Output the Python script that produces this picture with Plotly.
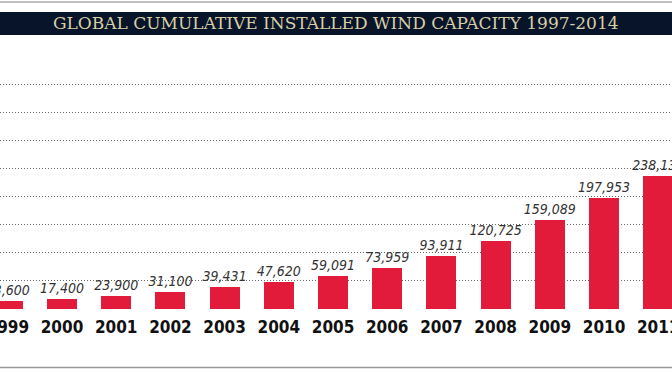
import plotly.graph_objects as go

years = [1999, 2000, 2001, 2002, 2003, 2004, 2005, 2006, 2007, 2008, 2009, 2010, 2011]
capacity_mw = [13600, 17400, 23900, 31100, 39431, 47620, 59091, 73959, 93911,
               120725, 159089, 197953, 238130]
title_text = "GLOBAL CUMULATIVE INSTALLED WIND CAPACITY 1997-2014"

W, H = 672, 372
M_T, M_B = 60, 63
PLOT_H = H - M_T - M_B
BASE_PX = H - M_B


def py(px):
    """convert a pixel row (from top) to paper y"""
    return (BASE_PX - px) / PLOT_H


fig = go.Figure()
fig.add_trace(go.Bar(
    x=years, y=capacity_mw,
    width=0.555,
    marker=dict(color="#e21b3a", line=dict(width=0)),
    texttemplate="%{y:,}",
    textposition="outside",
    constraintext="none",
    textfont=dict(family="DejaVu Sans Condensed, Roboto, sans-serif", size=14,
                  color="#333333", style="italic"),
    cliponaxis=False,
    hoverinfo="skip",
))

fig.update_layout(
    width=W, height=H,
    margin=dict(l=0, r=0, t=M_T, b=M_B, autoexpand=False),
    paper_bgcolor="white", plot_bgcolor="white",
    showlegend=False,
    bargap=0,
    xaxis=dict(
        range=[1998.856, 2011.254],
        automargin=False,
        tickmode="array", tickvals=years, ticktext=[str(y) for y in years],
        showgrid=False, zeroline=False, showline=False, ticks="",
        tickfont=dict(family="DejaVu Sans Condensed, Roboto, sans-serif", size=17,
                      color="#111111", weight="bold"),
        ticklabeloverflow="allow",
        ticklabelstandoff=6,
    ),
    yaxis=dict(
        range=[0, PLOT_H * 1785],
        automargin=False,
        tickmode="array", tickvals=list(range(50000, 400001, 50000)),
        showticklabels=False, ticks="",
        showgrid=True, gridcolor="#666666", gridwidth=1, griddash="1px,2px",
        zeroline=False, showline=False,
    ),
    shapes=[
        dict(type="rect", xref="paper", yref="paper", x0=0, x1=1,
             y0=py(35), y1=py(12), fillcolor="#08142a", line=dict(width=0), layer="above"),
        dict(type="line", xref="paper", yref="paper", x0=0, x1=1,
             y0=py(2), y1=py(2), line=dict(color="#aaaaaa", width=1.5)),
        dict(type="line", xref="paper", yref="paper", x0=0, x1=1,
             y0=py(367.5), y1=py(367.5), line=dict(color="#999999", width=1.5)),
    ],
    annotations=[
        dict(text=title_text, xref="paper", yref="paper", x=0.5, y=py(23.5),
             xanchor="center", yanchor="middle", showarrow=False,
             font=dict(family="DejaVu Serif, serif", size=17, color="#d8cfa6")),
    ],
)

fig.write_html("out.html",
               config={"displayModeBar": False, "staticPlot": True},
               post_script="document.body.style.margin='0';"
                           "document.documentElement.style.overflow='hidden';"
                           "document.body.style.overflow='hidden';")
